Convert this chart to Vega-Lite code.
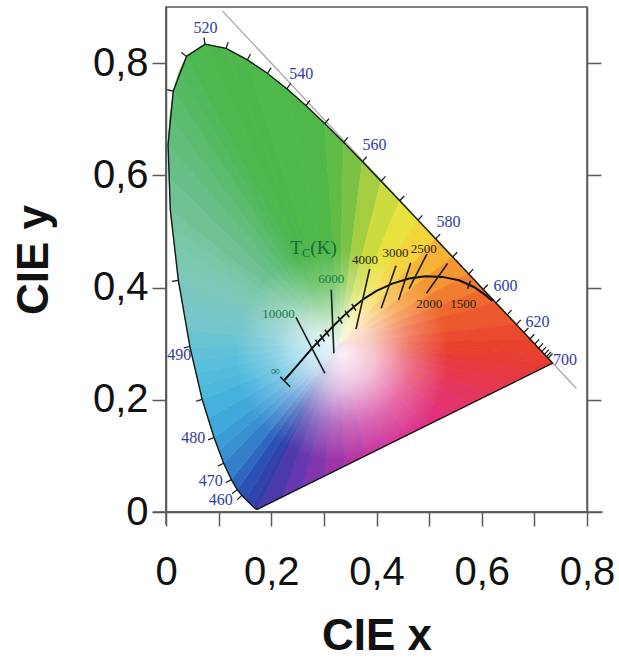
{
"$schema": "https://vega.github.io/schema/vega-lite/v6.json",
"width": 421, "height": 505,
"autosize": "none",
"padding": {"left": 166, "top": 7, "right": 32, "bottom": 148},
"background": "white",
"config": {
  "view": {"stroke": "#5a5a5a", "strokeWidth": 1.5},
  "axis": {"domainColor": "#5a5a5a", "domainWidth": 1.5, "tickColor": "#5a5a5a", "tickWidth": 1.5,
    "labelFont": "Liberation Sans", "labelFontSize": 40, "labelColor": "#111111",
    "titleFont": "Liberation Sans", "titleFontSize": 44, "titleFontWeight": "bold", "titleColor": "#111111"}
},
"resolve": {"axis": {"x": "independent", "y": "independent"}},
"datasets": {
  "gv": [{"x":0.05},{"x":0.1},{"x":0.15},{"x":0.2},{"x":0.25},{"x":0.3},{"x":0.35},{"x":0.4},{"x":0.45},{"x":0.5},{"x":0.55},{"x":0.6},{"x":0.65},{"x":0.7},{"x":0.75},{"x":0.783}],
  "gh": [{"y":0.05},{"y":0.1},{"y":0.15},{"y":0.2},{"y":0.25},{"y":0.3},{"y":0.35},{"y":0.4},{"y":0.45},{"y":0.5},{"y":0.55},{"y":0.6},{"y":0.65},{"y":0.7},{"y":0.75},{"y":0.8},{"y":0.85},{"y":0.889}],
  "diag": [{"x":0.107,"y":0.893,"x2":0.78,"y2":0.22}],
  "locus": [
    {"o":380,"x":0.1741,"y":0.0050},{"o":385,"x":0.1740,"y":0.0050},{"o":390,"x":0.1738,"y":0.0049},{"o":395,"x":0.1736,"y":0.0049},
    {"o":400,"x":0.1733,"y":0.0048},{"o":405,"x":0.1730,"y":0.0048},{"o":410,"x":0.1726,"y":0.0048},{"o":415,"x":0.1721,"y":0.0048},
    {"o":420,"x":0.1714,"y":0.0051},{"o":425,"x":0.1703,"y":0.0058},{"o":430,"x":0.1689,"y":0.0069},{"o":435,"x":0.1669,"y":0.0086},
    {"o":440,"x":0.1644,"y":0.0109},{"o":445,"x":0.1611,"y":0.0138},{"o":450,"x":0.1566,"y":0.0177},{"o":455,"x":0.1510,"y":0.0227},
    {"o":460,"x":0.1440,"y":0.0297},{"o":465,"x":0.1355,"y":0.0399},{"o":470,"x":0.1241,"y":0.0578},{"o":475,"x":0.1096,"y":0.0868},
    {"o":480,"x":0.0913,"y":0.1327},{"o":485,"x":0.0687,"y":0.2007},{"o":490,"x":0.0454,"y":0.2950},{"o":495,"x":0.0235,"y":0.4127},
    {"o":500,"x":0.0082,"y":0.5384},{"o":505,"x":0.0039,"y":0.6548},{"o":510,"x":0.0139,"y":0.7502},{"o":515,"x":0.0389,"y":0.8120},
    {"o":520,"x":0.0743,"y":0.8338},{"o":525,"x":0.1142,"y":0.8262},{"o":530,"x":0.1547,"y":0.8059},{"o":535,"x":0.1929,"y":0.7816},
    {"o":540,"x":0.2296,"y":0.7543},{"o":545,"x":0.2658,"y":0.7243},{"o":550,"x":0.3016,"y":0.6923},{"o":555,"x":0.3373,"y":0.6589},
    {"o":560,"x":0.3731,"y":0.6245},{"o":565,"x":0.4087,"y":0.5896},{"o":570,"x":0.4441,"y":0.5547},{"o":575,"x":0.4788,"y":0.5202},
    {"o":580,"x":0.5125,"y":0.4866},{"o":585,"x":0.5448,"y":0.4544},{"o":590,"x":0.5752,"y":0.4242},{"o":595,"x":0.6029,"y":0.3965},
    {"o":600,"x":0.6270,"y":0.3725},{"o":605,"x":0.6482,"y":0.3514},{"o":610,"x":0.6658,"y":0.3340},{"o":615,"x":0.6801,"y":0.3197},
    {"o":620,"x":0.6915,"y":0.3083},{"o":625,"x":0.7006,"y":0.2993},{"o":630,"x":0.7079,"y":0.2920},{"o":635,"x":0.7140,"y":0.2859},
    {"o":640,"x":0.7190,"y":0.2809},{"o":645,"x":0.7230,"y":0.2770},{"o":650,"x":0.7260,"y":0.2740},{"o":655,"x":0.7283,"y":0.2717},
    {"o":660,"x":0.7300,"y":0.2700},{"o":670,"x":0.7327,"y":0.2673},{"o":680,"x":0.7334,"y":0.2666},{"o":700,"x":0.7347,"y":0.2653},
    {"o":800,"x":0.1741,"y":0.0050}
  ],
  "fan": [
    {"t":0,"v":0,"x":0.33,"y":0.30,"h":410},{"t":0,"v":1,"x":0.1741,"y":0.0050,"h":410},{"t":0,"v":2,"x":0.1644,"y":0.0109,"h":410},
    {"t":1,"v":0,"x":0.33,"y":0.30,"h":447},{"t":1,"v":1,"x":0.1644,"y":0.0109,"h":447},{"t":1,"v":2,"x":0.1510,"y":0.0227,"h":447},
    {"t":2,"v":0,"x":0.33,"y":0.30,"h":460},{"t":2,"v":1,"x":0.1510,"y":0.0227,"h":460},{"t":2,"v":2,"x":0.1355,"y":0.0399,"h":460},
    {"t":3,"v":0,"x":0.33,"y":0.30,"h":467.5},{"t":3,"v":1,"x":0.1355,"y":0.0399,"h":467.5},{"t":3,"v":2,"x":0.1241,"y":0.0578,"h":467.5},
    {"t":4,"v":0,"x":0.33,"y":0.30,"h":472.5},{"t":4,"v":1,"x":0.1241,"y":0.0578,"h":472.5},{"t":4,"v":2,"x":0.1096,"y":0.0868,"h":472.5},
    {"t":5,"v":0,"x":0.33,"y":0.30,"h":476.25},{"t":5,"v":1,"x":0.1096,"y":0.0868,"h":476.25},{"t":5,"v":2,"x":0.10045,"y":0.10975,"h":476.25},
    {"t":6,"v":0,"x":0.33,"y":0.30,"h":478.75},{"t":6,"v":1,"x":0.10045,"y":0.10975,"h":478.75},{"t":6,"v":2,"x":0.0913,"y":0.1327,"h":478.75},
    {"t":7,"v":0,"x":0.33,"y":0.30,"h":481.25},{"t":7,"v":1,"x":0.0913,"y":0.1327,"h":481.25},{"t":7,"v":2,"x":0.0800,"y":0.1667,"h":481.25},
    {"t":8,"v":0,"x":0.33,"y":0.30,"h":483.75},{"t":8,"v":1,"x":0.0800,"y":0.1667,"h":483.75},{"t":8,"v":2,"x":0.0687,"y":0.2007,"h":483.75},
    {"t":9,"v":0,"x":0.33,"y":0.30,"h":485.6},{"t":9,"v":1,"x":0.0687,"y":0.2007,"h":485.6},{"t":9,"v":2,"x":0.06288,"y":0.22428,"h":485.6},
    {"t":10,"v":0,"x":0.33,"y":0.30,"h":486.9},{"t":10,"v":1,"x":0.06288,"y":0.22428,"h":486.9},{"t":10,"v":2,"x":0.05705,"y":0.24785,"h":486.9},
    {"t":11,"v":0,"x":0.33,"y":0.30,"h":488.1},{"t":11,"v":1,"x":0.05705,"y":0.24785,"h":488.1},{"t":11,"v":2,"x":0.05123,"y":0.27143,"h":488.1},
    {"t":12,"v":0,"x":0.33,"y":0.30,"h":489.4},{"t":12,"v":1,"x":0.05123,"y":0.27143,"h":489.4},{"t":12,"v":2,"x":0.0454,"y":0.2950,"h":489.4},
    {"t":13,"v":0,"x":0.33,"y":0.30,"h":490.6},{"t":13,"v":1,"x":0.0454,"y":0.2950,"h":490.6},{"t":13,"v":2,"x":0.03993,"y":0.32443,"h":490.6},
    {"t":14,"v":0,"x":0.33,"y":0.30,"h":491.9},{"t":14,"v":1,"x":0.03993,"y":0.32443,"h":491.9},{"t":14,"v":2,"x":0.03445,"y":0.35385,"h":491.9},
    {"t":15,"v":0,"x":0.33,"y":0.30,"h":493.1},{"t":15,"v":1,"x":0.03445,"y":0.35385,"h":493.1},{"t":15,"v":2,"x":0.02898,"y":0.38328,"h":493.1},
    {"t":16,"v":0,"x":0.33,"y":0.30,"h":494.4},{"t":16,"v":1,"x":0.02898,"y":0.38328,"h":494.4},{"t":16,"v":2,"x":0.0235,"y":0.4127,"h":494.4},
    {"t":17,"v":0,"x":0.33,"y":0.30,"h":495.6},{"t":17,"v":1,"x":0.0235,"y":0.4127,"h":495.6},{"t":17,"v":2,"x":0.01968,"y":0.44413,"h":495.6},
    {"t":18,"v":0,"x":0.33,"y":0.30,"h":496.9},{"t":18,"v":1,"x":0.01968,"y":0.44413,"h":496.9},{"t":18,"v":2,"x":0.01585,"y":0.47555,"h":496.9},
    {"t":19,"v":0,"x":0.33,"y":0.30,"h":498.1},{"t":19,"v":1,"x":0.01585,"y":0.47555,"h":498.1},{"t":19,"v":2,"x":0.01203,"y":0.50698,"h":498.1},
    {"t":20,"v":0,"x":0.33,"y":0.30,"h":499.4},{"t":20,"v":1,"x":0.01203,"y":0.50698,"h":499.4},{"t":20,"v":2,"x":0.0082,"y":0.5384,"h":499.4},
    {"t":21,"v":0,"x":0.33,"y":0.30,"h":501.25},{"t":21,"v":1,"x":0.0082,"y":0.5384,"h":501.25},{"t":21,"v":2,"x":0.00605,"y":0.5966,"h":501.25},
    {"t":22,"v":0,"x":0.33,"y":0.30,"h":503.75},{"t":22,"v":1,"x":0.00605,"y":0.5966,"h":503.75},{"t":22,"v":2,"x":0.0039,"y":0.6548,"h":503.75},
    {"t":23,"v":0,"x":0.33,"y":0.30,"h":506.25},{"t":23,"v":1,"x":0.0039,"y":0.6548,"h":506.25},{"t":23,"v":2,"x":0.0075,"y":0.7030,"h":506.25},
    {"t":23.5,"v":0,"x":0.33,"y":0.30,"h":508.75},{"t":23.5,"v":1,"x":0.0075,"y":0.7030,"h":508.75},{"t":23.5,"v":2,"x":0.0139,"y":0.7502,"h":508.75},
    {"t":24,"v":0,"x":0.33,"y":0.30,"h":511.25},{"t":24,"v":1,"x":0.0139,"y":0.7502,"h":511.25},{"t":24,"v":2,"x":0.0250,"y":0.7835,"h":511.25},
    {"t":24.5,"v":0,"x":0.33,"y":0.30,"h":513.75},{"t":24.5,"v":1,"x":0.0250,"y":0.7835,"h":513.75},{"t":24.5,"v":2,"x":0.0389,"y":0.8120,"h":513.75},
    {"t":25,"v":0,"x":0.33,"y":0.30,"h":517.5},{"t":25,"v":1,"x":0.0389,"y":0.8120,"h":517.5},{"t":25,"v":2,"x":0.0743,"y":0.8338,"h":517.5},
    {"t":26,"v":0,"x":0.33,"y":0.30,"h":522.5},{"t":26,"v":1,"x":0.0743,"y":0.8338,"h":522.5},{"t":26,"v":2,"x":0.1142,"y":0.8262,"h":522.5},
    {"t":27,"v":0,"x":0.33,"y":0.30,"h":527.5},{"t":27,"v":1,"x":0.1142,"y":0.8262,"h":527.5},{"t":27,"v":2,"x":0.1547,"y":0.8059,"h":527.5},
    {"t":28,"v":0,"x":0.33,"y":0.30,"h":535},{"t":28,"v":1,"x":0.1547,"y":0.8059,"h":535},{"t":28,"v":2,"x":0.2296,"y":0.7543,"h":535},
    {"t":29,"v":0,"x":0.33,"y":0.30,"h":545},{"t":29,"v":1,"x":0.2296,"y":0.7543,"h":545},{"t":29,"v":2,"x":0.3016,"y":0.6923,"h":545},
    {"t":30,"v":0,"x":0.33,"y":0.30,"h":552.5},{"t":30,"v":1,"x":0.3016,"y":0.6923,"h":552.5},{"t":30,"v":2,"x":0.3373,"y":0.6589,"h":552.5},
    {"t":31,"v":0,"x":0.33,"y":0.30,"h":557.5},{"t":31,"v":1,"x":0.3373,"y":0.6589,"h":557.5},{"t":31,"v":2,"x":0.3731,"y":0.6245,"h":557.5},
    {"t":32,"v":0,"x":0.33,"y":0.30,"h":562.5},{"t":32,"v":1,"x":0.3731,"y":0.6245,"h":562.5},{"t":32,"v":2,"x":0.4087,"y":0.5896,"h":562.5},
    {"t":33,"v":0,"x":0.33,"y":0.30,"h":567.5},{"t":33,"v":1,"x":0.4087,"y":0.5896,"h":567.5},{"t":33,"v":2,"x":0.4441,"y":0.5547,"h":567.5},
    {"t":34,"v":0,"x":0.33,"y":0.30,"h":572.5},{"t":34,"v":1,"x":0.4441,"y":0.5547,"h":572.5},{"t":34,"v":2,"x":0.4788,"y":0.5202,"h":572.5},
    {"t":35,"v":0,"x":0.33,"y":0.30,"h":577.5},{"t":35,"v":1,"x":0.4788,"y":0.5202,"h":577.5},{"t":35,"v":2,"x":0.5125,"y":0.4866,"h":577.5},
    {"t":36,"v":0,"x":0.33,"y":0.30,"h":582.5},{"t":36,"v":1,"x":0.5125,"y":0.4866,"h":582.5},{"t":36,"v":2,"x":0.5448,"y":0.4544,"h":582.5},
    {"t":37,"v":0,"x":0.33,"y":0.30,"h":587.5},{"t":37,"v":1,"x":0.5448,"y":0.4544,"h":587.5},{"t":37,"v":2,"x":0.5752,"y":0.4242,"h":587.5},
    {"t":38,"v":0,"x":0.33,"y":0.30,"h":592.5},{"t":38,"v":1,"x":0.5752,"y":0.4242,"h":592.5},{"t":38,"v":2,"x":0.6029,"y":0.3965,"h":592.5},
    {"t":39,"v":0,"x":0.33,"y":0.30,"h":597.5},{"t":39,"v":1,"x":0.6029,"y":0.3965,"h":597.5},{"t":39,"v":2,"x":0.6270,"y":0.3725,"h":597.5},
    {"t":40,"v":0,"x":0.33,"y":0.30,"h":605},{"t":40,"v":1,"x":0.6270,"y":0.3725,"h":605},{"t":40,"v":2,"x":0.6658,"y":0.3340,"h":605},
    {"t":41,"v":0,"x":0.33,"y":0.30,"h":615},{"t":41,"v":1,"x":0.6658,"y":0.3340,"h":615},{"t":41,"v":2,"x":0.6915,"y":0.3083,"h":615},
    {"t":42,"v":0,"x":0.33,"y":0.30,"h":630},{"t":42,"v":1,"x":0.6915,"y":0.3083,"h":630},{"t":42,"v":2,"x":0.7190,"y":0.2809,"h":630},
    {"t":43,"v":0,"x":0.33,"y":0.30,"h":670},{"t":43,"v":1,"x":0.7190,"y":0.2809,"h":670},{"t":43,"v":2,"x":0.7347,"y":0.2653,"h":670},
    {"t":44,"v":0,"x":0.33,"y":0.30,"h":702.5},{"t":44,"v":1,"x":0.7347,"y":0.2653,"h":702.5},{"t":44,"v":2,"x":0.70,"y":0.2492,"h":702.5},
    {"t":45,"v":0,"x":0.33,"y":0.30,"h":707.8},{"t":45,"v":1,"x":0.70,"y":0.2492,"h":707.8},{"t":45,"v":2,"x":0.66,"y":0.2306,"h":707.8},
    {"t":46,"v":0,"x":0.33,"y":0.30,"h":713.5},{"t":46,"v":1,"x":0.66,"y":0.2306,"h":713.5},{"t":46,"v":2,"x":0.62,"y":0.2120,"h":713.5},
    {"t":47,"v":0,"x":0.33,"y":0.30,"h":719.2},{"t":47,"v":1,"x":0.62,"y":0.2120,"h":719.2},{"t":47,"v":2,"x":0.58,"y":0.1935,"h":719.2},
    {"t":48,"v":0,"x":0.33,"y":0.30,"h":724.9},{"t":48,"v":1,"x":0.58,"y":0.1935,"h":724.9},{"t":48,"v":2,"x":0.54,"y":0.1749,"h":724.9},
    {"t":49,"v":0,"x":0.33,"y":0.30,"h":730.6},{"t":49,"v":1,"x":0.54,"y":0.1749,"h":730.6},{"t":49,"v":2,"x":0.50,"y":0.1563,"h":730.6},
    {"t":50,"v":0,"x":0.33,"y":0.30,"h":736.3},{"t":50,"v":1,"x":0.50,"y":0.1563,"h":736.3},{"t":50,"v":2,"x":0.46,"y":0.1377,"h":736.3},
    {"t":51,"v":0,"x":0.33,"y":0.30,"h":742.1},{"t":51,"v":1,"x":0.46,"y":0.1377,"h":742.1},{"t":51,"v":2,"x":0.42,"y":0.1192,"h":742.1},
    {"t":52,"v":0,"x":0.33,"y":0.30,"h":747.8},{"t":52,"v":1,"x":0.42,"y":0.1192,"h":747.8},{"t":52,"v":2,"x":0.38,"y":0.1006,"h":747.8},
    {"t":53,"v":0,"x":0.33,"y":0.30,"h":753.5},{"t":53,"v":1,"x":0.38,"y":0.1006,"h":753.5},{"t":53,"v":2,"x":0.34,"y":0.0820,"h":753.5},
    {"t":54,"v":0,"x":0.33,"y":0.30,"h":759.2},{"t":54,"v":1,"x":0.34,"y":0.0820,"h":759.2},{"t":54,"v":2,"x":0.30,"y":0.0635,"h":759.2},
    {"t":55,"v":0,"x":0.33,"y":0.30,"h":764.9},{"t":55,"v":1,"x":0.30,"y":0.0635,"h":764.9},{"t":55,"v":2,"x":0.26,"y":0.0449,"h":764.9},
    {"t":56,"v":0,"x":0.33,"y":0.30,"h":770.6},{"t":56,"v":1,"x":0.26,"y":0.0449,"h":770.6},{"t":56,"v":2,"x":0.22,"y":0.0263,"h":770.6},
    {"t":57,"v":0,"x":0.33,"y":0.30,"h":776.7},{"t":57,"v":1,"x":0.22,"y":0.0263,"h":776.7},{"t":57,"v":2,"x":0.1741,"y":0.0050,"h":776.7}
  ],
  "ticks": [
    {"x":0.1440,"y":0.0297,"x2":0.1351,"y2":0.0217},{"x":0.1355,"y":0.0399,"x2":0.1257,"y2":0.0330},
    {"x":0.1241,"y":0.0578,"x2":0.1136,"y2":0.0520},{"x":0.1096,"y":0.0868,"x2":0.0986,"y2":0.0820},
    {"x":0.0913,"y":0.1327,"x2":0.0800,"y2":0.1286},{"x":0.0687,"y":0.2007,"x2":0.0572,"y2":0.1974},
    {"x":0.0454,"y":0.2950,"x2":0.0337,"y2":0.2925},{"x":0.0235,"y":0.4127,"x2":0.0116,"y2":0.4109},
    {"x":0.0139,"y":0.7502,"x2":0.0022,"y2":0.7528},{"x":0.0389,"y":0.8120,"x2":0.0292,"y2":0.8190},
    {"x":0.0743,"y":0.8338,"x2":0.0721,"y2":0.8456},{"x":0.1142,"y":0.8262,"x2":0.1181,"y2":0.8375},
    {"x":0.1547,"y":0.8059,"x2":0.1606,"y2":0.8163},{"x":0.1929,"y":0.7816,"x2":0.1997,"y2":0.7915},
    {"x":0.2296,"y":0.7543,"x2":0.2370,"y2":0.7637},{"x":0.2658,"y":0.7243,"x2":0.2736,"y2":0.7334},
    {"x":0.3016,"y":0.6923,"x2":0.3097,"y2":0.7012},{"x":0.3373,"y":0.6589,"x2":0.3456,"y2":0.6676},
    {"x":0.3731,"y":0.6245,"x2":0.3815,"y2":0.6331},{"x":0.4087,"y":0.5896,"x2":0.4171,"y2":0.5982},
    {"x":0.4441,"y":0.5547,"x2":0.4525,"y2":0.5632},{"x":0.4788,"y":0.5202,"x2":0.4873,"y2":0.5287},
    {"x":0.5125,"y":0.4866,"x2":0.5210,"y2":0.4951},{"x":0.5448,"y":0.4544,"x2":0.5533,"y2":0.4629},
    {"x":0.5752,"y":0.4242,"x2":0.5837,"y2":0.4327},{"x":0.6029,"y":0.3965,"x2":0.6114,"y2":0.4050},
    {"x":0.6270,"y":0.3725,"x2":0.6355,"y2":0.3810},{"x":0.6482,"y":0.3514,"x2":0.6567,"y2":0.3599},
    {"x":0.6658,"y":0.3340,"x2":0.6743,"y2":0.3425},{"x":0.6801,"y":0.3197,"x2":0.6886,"y2":0.3282},
    {"x":0.6915,"y":0.3083,"x2":0.7000,"y2":0.3168},{"x":0.7006,"y":0.2993,"x2":0.7091,"y2":0.3078},
    {"x":0.7079,"y":0.2920,"x2":0.7164,"y2":0.3005},{"x":0.7140,"y":0.2859,"x2":0.7225,"y2":0.2944},
    {"x":0.7190,"y":0.2809,"x2":0.7275,"y2":0.2894},{"x":0.7230,"y":0.2770,"x2":0.7315,"y2":0.2855},
    {"x":0.7260,"y":0.2740,"x2":0.7345,"y2":0.2825}
  ],
  "wl": [
    {"lab":"520","x":0.075,"y":0.863},{"lab":"540","x":0.257,"y":0.781},{"lab":"560","x":0.396,"y":0.654},
    {"lab":"580","x":0.537,"y":0.516},{"lab":"600","x":0.645,"y":0.402},{"lab":"620","x":0.706,"y":0.338},
    {"lab":"700","x":0.758,"y":0.271},{"lab":"490","x":0.025,"y":0.280},{"lab":"480","x":0.052,"y":0.132},
    {"lab":"470","x":0.085,"y":0.055},{"lab":"460","x":0.104,"y":0.021}
  ],
  "planck": [
    {"o":0,"x":0.2253,"y":0.2353},{"o":1,"x":0.2520,"y":0.2640},{"o":2,"x":0.2775,"y":0.2918},{"o":3,"x":0.2990,"y":0.3130},
    {"o":4,"x":0.3180,"y":0.3315},{"o":5,"x":0.3380,"y":0.3500},{"o":6,"x":0.3560,"y":0.3650},{"o":7,"x":0.3760,"y":0.3800},
    {"o":8,"x":0.4000,"y":0.3940},{"o":9,"x":0.4300,"y":0.4070},{"o":10,"x":0.4620,"y":0.4160},{"o":11,"x":0.4930,"y":0.4200},
    {"o":12,"x":0.5250,"y":0.4190},{"o":13,"x":0.5570,"y":0.4130},{"o":14,"x":0.5850,"y":0.4010},{"o":15,"x":0.6080,"y":0.3860},
    {"o":16,"x":0.6200,"y":0.3760}
  ],
  "iso": [
    {"x":0.217,"y":0.241,"x2":0.236,"y2":0.223},{"x":0.247,"y":0.347,"x2":0.302,"y2":0.247},
    {"x":0.314,"y":0.396,"x2":0.319,"y2":0.283},{"x":0.387,"y":0.433,"x2":0.361,"y2":0.326},
    {"x":0.437,"y":0.439,"x2":0.409,"y2":0.363},{"x":0.465,"y":0.444,"x2":0.442,"y2":0.378},
    {"x":0.496,"y":0.460,"x2":0.462,"y2":0.398},{"x":0.535,"y":0.443,"x2":0.495,"y2":0.390},
    {"x":0.284,"y":0.307,"x2":0.292,"y2":0.295},{"x":0.293,"y":0.316,"x2":0.301,"y2":0.304},
    {"x":0.302,"y":0.325,"x2":0.310,"y2":0.313},{"x":0.327,"y":0.348,"x2":0.335,"y2":0.336},
    {"x":0.340,"y":0.359,"x2":0.348,"y2":0.347},{"x":0.353,"y":0.371,"x2":0.361,"y2":0.359},
    {"x":0.579,"y":0.412,"x2":0.573,"y2":0.398}
  ],
  "tl": [
    {"lab":"10000","x":0.214,"y":0.353,"k":"g"},{"lab":"6000","x":0.314,"y":0.415,"k":"g"},
    {"lab":"∞","x":0.208,"y":0.252,"k":"g"},{"lab":"4000","x":0.378,"y":0.449,"k":"d"},
    {"lab":"3000","x":0.436,"y":0.462,"k":"d"},{"lab":"2500","x":0.490,"y":0.469,"k":"d"},
    {"lab":"2000","x":0.500,"y":0.371,"k":"d"},{"lab":"1500","x":0.565,"y":0.371,"k":"d"}
  ],
  "tc": [{"lab":"T","x":0.2362,"y":0.4706},{"lab":"(K)","x":0.2743,"y":0.4706}],
  "tcs": [{"lab":"C","x":0.2590,"y":0.4617}],
  "ext": [{"x":-0.025,"x2":0.83,"y":0,"y2":0},{"x":0,"x2":0,"y":-0.022,"y2":0.9}]
},
"encoding": {
  "x": {"field": "x", "type": "quantitative", "scale": {"domain": [0, 0.8], "nice": false, "zero": false}, "axis": null},
  "y": {"field": "y", "type": "quantitative", "scale": {"domain": [0, 0.9], "nice": false, "zero": false}, "axis": null}
},
"layer": [
  {
    "data": {"name": "gv"},
    "mark": {"type": "rule", "color": "#c8c8c8", "strokeWidth": 1.2},
    "encoding": {
      "x": {"field": "x", "type": "quantitative", "scale": {"domain": [0, 0.8], "nice": false, "zero": false},
        "axis": {"orient": "bottom", "values": [0,0.1,0.2,0.3,0.4,0.5,0.6,0.7,0.8],
          "labelExpr": "round(datum.value*10)%2==0 ? replace(format(datum.value,'.1~f'),'.',',') : ''",
          "title": "CIE x", "grid": false, "labelOverlap": false, "labelFlush": false, "labelBound": false,
          "tickSize": 14, "labelPadding": 26, "titlePadding": 22}},
      "y": {"datum": 0, "type": "quantitative", "scale": {"domain": [0, 0.9], "nice": false, "zero": false}, "axis": null},
      "y2": {"datum": 0.889}
    }
  },
  {
    "data": {"name": "gh"},
    "mark": {"type": "rule", "color": "#c8c8c8", "strokeWidth": 1.2},
    "encoding": {
      "y": {"field": "y", "type": "quantitative", "scale": {"domain": [0, 0.9], "nice": false, "zero": false},
        "axis": {"orient": "left", "values": [0,0.2,0.4,0.6,0.8],
          "labelExpr": "replace(format(datum.value,'.1~f'),'.',',')",
          "title": "CIE y", "grid": false, "labelOverlap": false, "labelFlush": false,
          "tickSize": 14, "labelPadding": 4, "titlePadding": 36}},
      "x": {"datum": 0, "type": "quantitative", "scale": {"domain": [0, 0.8], "nice": false, "zero": false}, "axis": null},
      "x2": {"datum": 0.783}
    }
  },
  {
    "data": {"name": "diag"},
    "mark": {"type": "rule", "color": "#a8a8a8", "strokeWidth": 1.3},
    "encoding": {"x2": {"field": "x2"}, "y2": {"field": "y2"}}
  },
  {
    "data": {"name": "fan"},
    "mark": {"type": "line", "strokeWidth": 1, "strokeJoin": "round"},
    "encoding": {
      "detail": {"field": "t"},
      "order": {"field": "v", "type": "quantitative"},
      "fill": {"field": "h", "type": "quantitative", "legend": null,
        "scale": {"domain": [380,440,455,462,468,473,478,483,488,492,496,500,504,508,513,518,545,552,557,562,567,572,577,582,587,592,597,605,615,630,700,712,724,736,748,760,770,780],
          "range": ["#3a38a8","#303ea8","#2c48b0","#2b55b6","#2f68c0","#3580cb","#3b9ad5","#42b0dc","#58bfdc","#74c6cc","#7ec8b6","#74c49c","#66bf86","#5cbc72","#52b95e","#4cb74e","#4fb848","#5cbb46","#76c145","#a0cb42","#c9da3e","#e8e33e","#f5d63a","#f6b636","#f49832","#f17f30","#ee6a2e","#ec592e","#ea4b2e","#e8422f","#e63c32","#e6384a","#e4346a","#de3188","#c8309a","#9a34aa","#6a38b0","#3d3aa8"],
          "interpolate": "rgb"}},
      "stroke": {"field": "h", "type": "quantitative", "legend": null,
        "scale": {"domain": [380,440,455,462,468,473,478,483,488,492,496,500,504,508,513,518,545,552,557,562,567,572,577,582,587,592,597,605,615,630,700,712,724,736,748,760,770,780],
          "range": ["#3a38a8","#303ea8","#2c48b0","#2b55b6","#2f68c0","#3580cb","#3b9ad5","#42b0dc","#58bfdc","#74c6cc","#7ec8b6","#74c49c","#66bf86","#5cbc72","#52b95e","#4cb74e","#4fb848","#5cbb46","#76c145","#a0cb42","#c9da3e","#e8e33e","#f5d63a","#f6b636","#f49832","#f17f30","#ee6a2e","#ec592e","#ea4b2e","#e8422f","#e63c32","#e6384a","#e4346a","#de3188","#c8309a","#9a34aa","#6a38b0","#3d3aa8"],
          "interpolate": "rgb"}}
    }
  },
  {
    "data": {"name": "locus"},
    "mark": {"type": "line", "strokeWidth": 0, "strokeOpacity": 0,
      "fill": {"gradient": "radial", "x1": 0.461, "y1": 0.668, "r1": 0, "x2": 0.461, "y2": 0.668, "r2": 0.23,
        "stops": [{"offset": 0, "color": "rgba(255,255,255,0.93)"}, {"offset": 0.3, "color": "rgba(255,255,255,0.7)"},
                  {"offset": 0.65, "color": "rgba(255,255,255,0.28)"}, {"offset": 1, "color": "rgba(255,255,255,0)"}]}},
    "encoding": {"order": {"field": "o", "type": "quantitative"}}
  },
  {
    "data": {"name": "locus"},
    "mark": {"type": "line", "color": "#111a11", "strokeWidth": 1.4, "strokeJoin": "round"},
    "encoding": {"order": {"field": "o", "type": "quantitative"}}
  },
  {
    "data": {"name": "ticks"},
    "mark": {"type": "rule", "color": "#111111", "strokeWidth": 1.2},
    "encoding": {"x2": {"field": "x2"}, "y2": {"field": "y2"}}
  },
  {
    "data": {"name": "wl"},
    "mark": {"type": "text", "font": "Liberation Serif", "fontSize": 16, "color": "#2f3d9c", "align": "center", "baseline": "middle"},
    "encoding": {"text": {"field": "lab"}}
  },
  {
    "data": {"name": "planck"},
    "mark": {"type": "line", "color": "#111111", "strokeWidth": 2},
    "encoding": {"order": {"field": "o", "type": "quantitative"}}
  },
  {
    "data": {"name": "iso"},
    "mark": {"type": "rule", "color": "#1b1f1b", "strokeWidth": 1.6},
    "encoding": {"x2": {"field": "x2"}, "y2": {"field": "y2"}}
  },
  {
    "data": {"name": "tl"},
    "mark": {"type": "text", "font": "Liberation Serif", "fontSize": 13, "align": "center", "baseline": "middle"},
    "encoding": {"text": {"field": "lab"},
      "color": {"field": "k", "type": "nominal", "legend": null, "scale": {"domain": ["g", "d"], "range": ["#1e7a45", "#2a2415"]}}}
  },
  {
    "data": {"name": "tc"},
    "mark": {"type": "text", "font": "Liberation Serif", "fontSize": 19, "color": "#1a6a3a", "align": "left", "baseline": "middle"},
    "encoding": {"text": {"field": "lab"}}
  },
  {
    "data": {"name": "tcs"},
    "mark": {"type": "text", "font": "Liberation Serif", "fontSize": 12, "color": "#1a6a3a", "align": "left", "baseline": "middle"},
    "encoding": {"text": {"field": "lab"}}
  },
  {
    "data": {"name": "ext"},
    "mark": {"type": "rule", "color": "#5a5a5a", "strokeWidth": 1.5},
    "encoding": {
      "y": {"field": "y", "type": "quantitative", "scale": {"domain": [0, 0.9], "nice": false, "zero": false},
        "axis": {"orient": "right", "values": [0,0.2,0.4,0.6,0.8], "labels": false, "title": null, "grid": false, "tickSize": 14}},
      "x2": {"field": "x2"}, "y2": {"field": "y2"}
    }
  }
]
}
